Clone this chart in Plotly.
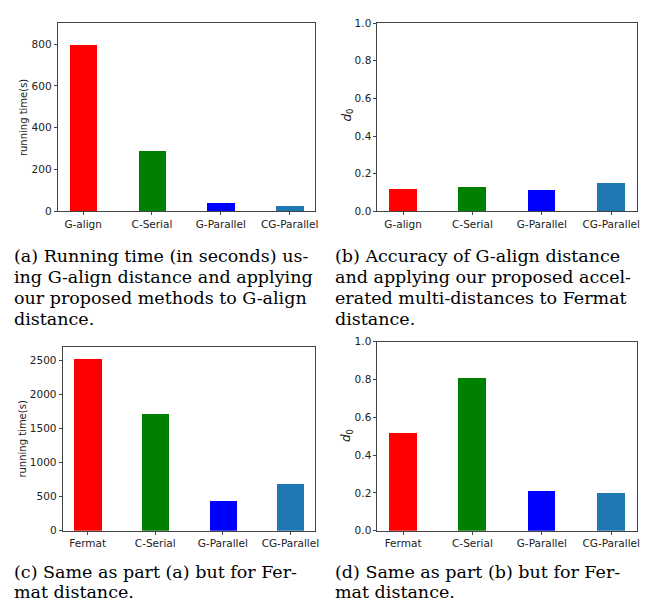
import plotly.graph_objects as go

# ---- data ----
cats_a = ["G-align", "C-Serial", "G-Parallel", "CG-Parallel"]
time_a = [797, 289, 40, 25]
acc_b = [0.12, 0.13, 0.11, 0.15]
cats_c = ["Fermat", "C-Serial", "G-Parallel", "CG-Parallel"]
time_c = [2530, 1714, 440, 694]
acc_d = [0.52, 0.81, 0.21, 0.20]
bar_colors = ["#ff0000", "#008000", "#0000ff", "#1f77b4"]

ticks_time_a = [0, 200, 400, 600, 800]
ticks_time_c = [0, 500, 1000, 1500, 2000, 2500]
ticks_acc = [0.0, 0.2, 0.4, 0.6, 0.8, 1.0]

caption_a = ["(a) Running time (in seconds) us-",
             "ing G-align distance and applying",
             "our proposed methods to G-align",
             "distance."]
caption_b = ["(b) Accuracy of G-align distance",
             "and applying our proposed accel-",
             "erated multi-distances to Fermat",
             "distance."]
caption_c = ["(c) Same as part (a) but for Fer-",
             "mat distance."]
caption_d = ["(d) Same as part (b) but for Fer-",
             "mat distance."]

W, H = 652, 603

def px(x):
    return x / W

def py(y):
    return 1 - y / H

fig = go.Figure()

panels = [
    ("x", "y", cats_a, time_a),
    ("x2", "y2", cats_a, acc_b),
    ("x3", "y3", cats_c, time_c),
    ("x4", "y4", cats_c, acc_d),
]
for xa, ya, cats, vals in panels:
    fig.add_trace(go.Bar(x=cats, y=vals, width=0.4, marker=dict(color=bar_colors, line=dict(width=0)),
                         xaxis=xa, yaxis=ya, showlegend=False))

tickfont = dict(family="DejaVu Sans", size=10.5, color="#222")
common_x = dict(type="category", range=[-0.37, 3.37], showline=True, mirror=True, linecolor="#444",
                linewidth=1, ticks="outside", ticklen=3, tickcolor="#444", showgrid=False,
                tickfont=tickfont, zeroline=False, fixedrange=True)
common_y = dict(showline=True, mirror=True, linecolor="#444", linewidth=1, ticks="outside",
                ticklen=3, tickcolor="#444", showgrid=False, tickfont=tickfont, zeroline=False)

dom = {
    "a": ([px(50), px(309)], [py(201.3), py(9.3)]),
    "b": ([px(371.7), px(632.7)], [py(201.3), py(9.3)]),
    "c": ([px(55), px(309.3)], [py(527.3), py(339.3)]),
    "d": ([px(371.7), px(632.7)], [py(527.3), py(334.3)]),
}

fig.update_layout(
    width=W, height=H, margin=dict(l=0, r=0, t=0, b=0),
    paper_bgcolor="white", plot_bgcolor="white", bargap=0,
    xaxis=dict(common_x, domain=dom["a"][0], anchor="y"),
    yaxis=dict(common_y, domain=dom["a"][1], anchor="x", range=[0, 900], tickvals=ticks_time_a),
    xaxis2=dict(common_x, domain=dom["b"][0], anchor="y2"),
    yaxis2=dict(common_y, domain=dom["b"][1], anchor="x2", range=[0, 1], tickvals=ticks_acc, tickformat=".1f"),
    xaxis3=dict(common_x, domain=dom["c"][0], anchor="y3"),
    yaxis3=dict(common_y, domain=dom["c"][1], anchor="x3", range=[0, 2700], tickvals=ticks_time_c),
    xaxis4=dict(common_x, domain=dom["d"][0], anchor="y4"),
    yaxis4=dict(common_y, domain=dom["d"][1], anchor="x4", range=[0, 1], tickvals=ticks_acc, tickformat=".1f"),
)

ann = []
# y axis labels
ylab_font = dict(family="DejaVu Sans", size=10, color="#222")
ann.append(dict(text="running time(s)", x=px(15), y=py(105.3), xref="paper", yref="paper",
                textangle=-90, showarrow=False, font=ylab_font, xanchor="center", yanchor="middle"))
ann.append(dict(text="running time(s)", x=px(15), y=py(433.3), xref="paper", yref="paper",
                textangle=-90, showarrow=False, font=ylab_font, xanchor="center", yanchor="middle"))
d0_font = dict(family="DejaVu Sans", size=12, color="#222")
ann.append(dict(text="<i>d</i><sub>0</sub>", x=px(341.7), y=py(103), xref="paper", yref="paper",
                textangle=-90, showarrow=False, font=d0_font, xanchor="center", yanchor="middle"))
ann.append(dict(text="<i>d</i><sub>0</sub>", x=px(341.7), y=py(430), xref="paper", yref="paper",
                textangle=-90, showarrow=False, font=d0_font, xanchor="center", yanchor="middle"))

cap_font = dict(family="DejaVu Serif", size=17.5, color="#000")
def add_caption(lines, x0, y0, step=21.3):
    for i, line in enumerate(lines):
        ann.append(dict(text=line, x=px(x0), y=py(y0 + i * step), xref="paper", yref="paper",
                        showarrow=False, font=cap_font, xanchor="left", yanchor="middle", borderpad=0))

add_caption(caption_a, 5, 247)
add_caption(caption_b, 328, 247)
add_caption(caption_c, 5, 569, step=20.5)
add_caption(caption_d, 328, 569, step=20.5)

fig.update_layout(annotations=ann)
fig.write_html("out.html")
